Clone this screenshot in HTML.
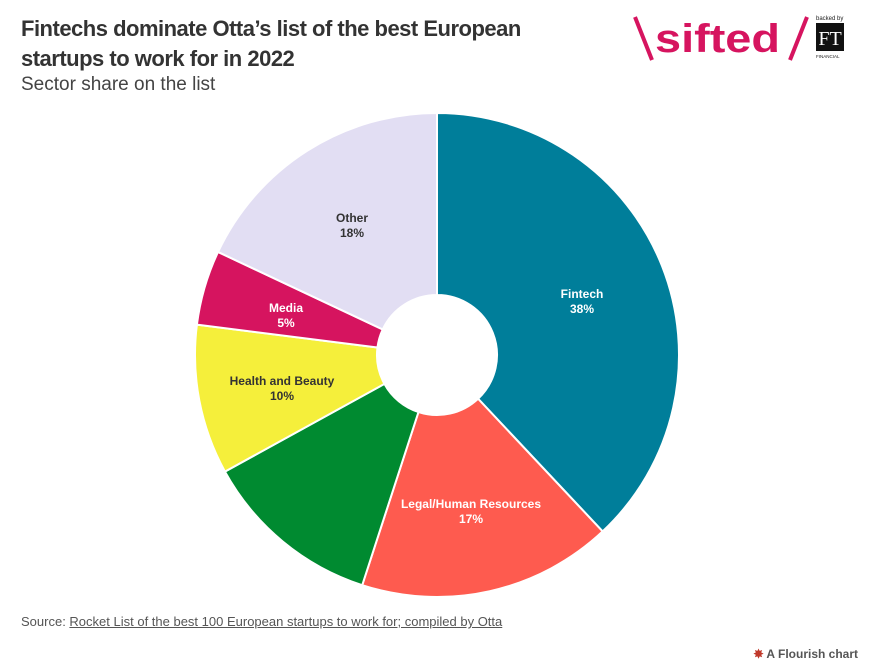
<!DOCTYPE html>
<html><head><meta charset="utf-8"><style>
body{margin:0;width:871px;height:670px;background:#fff;font-family:"Liberation Sans",sans-serif;position:relative;overflow:hidden}
.t{position:absolute;left:21px;top:14px;font-size:22px;font-weight:bold;color:#333;line-height:30px;letter-spacing:-0.5px}
.s{position:absolute;left:21px;top:74px;font-size:19px;color:#444}
.src{position:absolute;left:21px;top:614px;font-size:13px;color:#555}
.src u{color:#555}
.fl{position:absolute;right:13px;top:647px;font-size:12px;font-weight:bold;color:#555}
</style></head><body>
<div class="t">Fintechs dominate Otta’s list of the best European<br>startups to work for in 2022</div>
<div class="s">Sector share on the list</div>
<svg style="position:absolute;left:630px;top:12px" width="230" height="55">
<line x1="5" y1="5" x2="22" y2="48" stroke="#d6145f" stroke-width="4"/>
<text x="25" y="40" font-family="Liberation Sans" font-weight="bold" font-size="40" fill="#d6145f" textLength="125" lengthAdjust="spacingAndGlyphs">sifted</text>
<line x1="160" y1="48" x2="177" y2="5" stroke="#d6145f" stroke-width="4"/>
<text x="186" y="8" font-size="6" fill="#222">backed by</text>
<rect x="186" y="11" width="28" height="28" fill="#111"/>
<text x="200" y="33" font-family="Liberation Serif" font-size="20" fill="#fff" text-anchor="middle">FT</text>
<text x="186" y="46" font-size="4.5" fill="#222">FINANCIAL</text>
</svg>
<svg id="p" style="position:absolute;left:0;top:0" width="871" height="670"></svg>
<div class="src">Source: <u>Rocket List of the best 100 European startups to work for; compiled by Otta</u></div>
<div class="fl"><span style="color:#c0392b">✸</span> A Flourish chart</div>
<script>
var cx=437,cy=355,R=242,r=60,d=[[38,"#007e9a"],[17,"#fe5b4f"],[12,"#008a30"],[10,"#f5ef3b"],[5,"#d6145f"],[18,"#e2def3"]];
var a=0,s="";function P(rad,t){t=t*Math.PI/180;return (cx+rad*Math.sin(t)).toFixed(2)+","+(cy-rad*Math.cos(t)).toFixed(2)}
d.forEach(function(x){var b=a+x[0]*3.6,l=x[0]>50?1:0;
s+='<path d="M'+P(R,a)+'A'+R+','+R+' 0 '+l+' 1 '+P(R,b)+'L'+P(r,b)+'A'+r+','+r+' 0 '+l+' 0 '+P(r,a)+'Z" fill="'+x[1]+'" stroke="#fff" stroke-width="2"/>';a=b});
var L=[[582,298,"Fintech","38%","#fff"],[471,508,"Legal/Human Resources","17%","#fff"],[282,385,"Health and Beauty","10%","#333"],[286,312,"Media","5%","#fff"],[352,222,"Other","18%","#333"]];
L.forEach(function(q){s+='<text x="'+q[0]+'" y="'+q[1]+'" font-family="Liberation Sans" font-size="12" font-weight="bold" fill="'+q[4]+'" text-anchor="middle">'+q[2]+'<tspan x="'+q[0]+'" dy="15">'+q[3]+'</tspan></text>'});
document.getElementById("p").innerHTML=s;
</script>
</body></html>
